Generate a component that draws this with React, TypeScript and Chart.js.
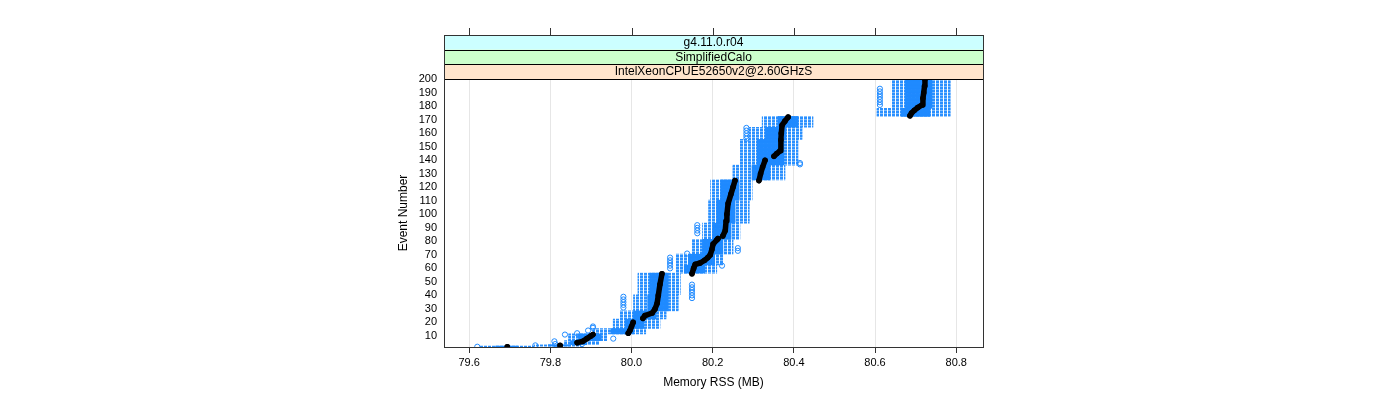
import React, { useEffect, useRef } from 'react';
import { Chart, registerables } from 'chart.js';

Chart.register(...registerables);

// ---- data ----
const stripLabels = ['g4.11.0.r04', 'SimplifiedCalo', 'IntelXeonCPUE52650v2@2.60GHzS'];
const stripColors = ['#ccffff', '#ccffcc', '#ffe5cc'];
const xTickValues = [79.6, 79.8, 80.0, 80.2, 80.4, 80.6, 80.8];
const yTickValues = [10, 20, 30, 40, 50, 60, 70, 80, 90, 100, 110, 120, 130, 140, 150, 160, 170, 180, 190, 200];

// blocks of events sharing (approximately) the same box statistics
const blockStart = [2, 3, 4, 7, 12, 16, 23, 29, 41, 57, 63, 71, 82, 94, 111, 126, 137, 156, 165, 173, 179];
const blockEnd = [2, 3, 6, 11, 15, 22, 28, 40, 56, 62, 70, 81, 93, 110, 125, 136, 155, 164, 172, 178, 200];
const whiskerLow = [79.625, 79.76, 79.835, 79.845, 79.905, 79.955, 79.97, 80.005, 80.016, 80.11, 80.11, 80.15, 80.175, 80.19, 80.195, 80.25, 80.267, 80.29, 80.322, 80.605, 80.64];
const boxLow = [79.665, 79.795, 79.85, 79.87, 79.95, 79.985, 80.005, 80.04, 80.045, 80.13, 80.14, 80.175, 80.2, 80.21, 80.22, 80.297, 80.31, 80.33, 80.361, 80.665, 80.675];
const boxHigh = [79.72, 79.85, 79.89, 79.925, 80.005, 80.03, 80.06, 80.09, 80.09, 80.18, 80.205, 80.225, 80.245, 80.255, 80.265, 80.341, 80.375, 80.38, 80.41, 80.735, 80.74];
const whiskerHigh = [79.76, 79.875, 79.92, 79.94, 80.035, 80.07, 80.085, 80.115, 80.12, 80.21, 80.225, 80.25, 80.267, 80.29, 80.297, 80.378, 80.41, 80.42, 80.447, 80.785, 80.785];

// median path (null = break)
const medianEvents = [2, null, 3, null, 5, 6, 8, 10, 11, null, 12, 14, 17, 20, null, 23, 25, 27, 30, 34, 40, 48, 56, null, 56, 60, 63, 64, 66, 68, 70, 74, 78, 81, 82, null, 84, 88, 95, 100, 108, 115, 120, 125, null, 125, 130, 135, 140, null, 143, 145, 147, 155, 160, 166, 169, 172, null, 173, 175, 177, 179, 181, 186, 190, 195, 200];
const medianValues = [79.694, null, 79.824, null, 79.866, 79.88, 79.89, 79.9, 79.905, null, 79.992, 79.996, 80.0, 80.004, null, 80.028, 80.033, 80.051, 80.058, 80.063, 80.066, 80.07, 80.075, null, 80.149, 80.153, 80.157, 80.169, 80.18, 80.188, 80.194, 80.198, 80.201, 80.21, 80.213, null, 80.225, 80.231, 80.233, 80.235, 80.238, 80.245, 80.25, 80.255, null, 80.314, 80.318, 80.323, 80.329, null, 80.351, 80.358, 80.366, 80.368, 80.369, 80.371, 80.378, 80.386, null, 80.686, 80.69, 80.697, 80.705, 80.716, 80.718, 80.72, 80.722, 80.723];

const outlierEvents = [2, 3, 4, 4, 6, 8, 11, 12, 14, 16, 17, 31, 33, 35, 37, 39, 38, 40, 42, 44, 46, 48, 60, 62, 64, 66, 68, 62, 71, 73, 75, 86, 88, 90, 92, 137, 138, 156, 158, 160, 162, 164, 181, 183, 185, 187, 189, 191, 193];
const outlierValues = [79.62, 79.763, 79.812, 79.878, 79.81, 79.955, 79.836, 79.866, 79.893, 79.905, 79.905, 79.98, 79.98, 79.98, 79.98, 79.98, 80.149, 80.149, 80.149, 80.149, 80.149, 80.149, 80.095, 80.095, 80.095, 80.095, 80.095, 80.223, 80.137, 80.262, 80.262, 80.162, 80.162, 80.162, 80.162, 80.415, 80.415, 80.283, 80.283, 80.283, 80.283, 80.283, 80.612, 80.612, 80.612, 80.612, 80.612, 80.612, 80.612];

const FONT = '"Liberation Sans", Arial, Helvetica, sans-serif';

function makeWhiskerPattern(): CanvasPattern | string {
  const c = document.createElement('canvas');
  c.width = 4;
  c.height = 3;
  const g = c.getContext('2d');
  if (!g) return '#5aaaff';
  g.fillStyle = '#ffffff';
  g.fillRect(0, 0, 4, 3);
  g.fillStyle = '#2b90ff';
  g.fillRect(0, 0, 3, 2);
  g.fillStyle = '#7dbdff';
  g.fillRect(0, 2, 3, 1);
  return g.createPattern(c, 'repeat') || '#5aaaff';
}

const latticePlugin = {
  id: 'latticeFrame',
  afterDraw(chart: any) {
    const { ctx, chartArea: a, scales } = chart;
    const x = scales.x;
    const stripH = 44 / 3;
    const stripTop = a.top - 44;
    ctx.save();
    for (let i = 0; i < stripLabels.length; i++) {
      const y0 = stripTop + i * stripH;
      ctx.fillStyle = stripColors[i];
      ctx.fillRect(a.left, y0, a.right - a.left, stripH);
      ctx.strokeStyle = '#000';
      ctx.lineWidth = 1;
      ctx.strokeRect(Math.round(a.left) + 0.5, Math.round(y0) + 0.5, Math.round(a.right - a.left), Math.round(stripH));
      ctx.fillStyle = '#000';
      ctx.font = '12px ' + FONT;
      ctx.textAlign = 'center';
      ctx.textBaseline = 'middle';
      ctx.fillText(stripLabels[i], (a.left + a.right) / 2, y0 + stripH / 2 + 0.5);
    }
    ctx.strokeStyle = '#333';
    ctx.lineWidth = 1;
    ctx.strokeRect(Math.round(a.left) + 0.5, Math.round(stripTop) + 0.5, Math.round(a.right - a.left), Math.round(a.bottom - stripTop));
    ctx.beginPath();
    for (const v of xTickValues) {
      const px = Math.round(x.getPixelForValue(v)) + 0.5;
      ctx.moveTo(px, stripTop - 7);
      ctx.lineTo(px, stripTop);
    }
    ctx.stroke();
    ctx.restore();
  },
};

export default function App() {
  const ref = useRef<HTMLCanvasElement>(null);
  useEffect(() => {
    document.body.style.margin = '0';
    const canvas = ref.current;
    if (!canvas) return;
    Chart.defaults.font.family = FONT;
    Chart.defaults.color = '#000';

    const whiskers: any[] = [];
    const boxes: any[] = [];
    for (let i = 0; i < blockStart.length; i++) {
      for (let e = blockStart[i]; e <= blockEnd[i]; e++) {
        whiskers.push({ y: e, x: [whiskerLow[i], whiskerHigh[i]] });
        boxes.push({ y: e, x: [boxLow[i], boxHigh[i]] });
      }
    }
    const medians = medianEvents.map((e, i) =>
      e === null || medianValues[i] === null ? { x: null, y: null } : { x: medianValues[i], y: e }
    );
    const outliers = outlierEvents.map((e, i) => ({ x: outlierValues[i], y: e }));

    const chart = new Chart(canvas, {
      type: 'bar',
      data: {
        datasets: [
          {
            type: 'bar',
            data: whiskers,
            backgroundColor: makeWhiskerPattern() as any,
            borderWidth: 0,
            grouped: false,
            categoryPercentage: 1,
            barPercentage: 1,
            order: 4,
          } as any,
          {
            type: 'bar',
            data: boxes,
            backgroundColor: '#1f8aff',
            borderWidth: 0,
            grouped: false,
            categoryPercentage: 1,
            barPercentage: 1,
            order: 3,
          } as any,
          {
            type: 'scatter',
            data: outliers,
            pointStyle: 'circle',
            pointRadius: 2.6,
            pointBorderWidth: 1,
            pointBorderColor: '#1f8aff',
            pointBackgroundColor: 'rgba(255,255,255,0)',
            order: 2,
          } as any,
          {
            type: 'line',
            data: medians,
            borderColor: '#000',
            borderWidth: 5.5,
            borderCapStyle: 'round',
            borderJoinStyle: 'round',
            pointRadius: 2.8,
            pointBackgroundColor: '#000',
            pointBorderWidth: 0,
            spanGaps: false,
            tension: 0,
            order: 1,
          } as any,
        ],
      },
      options: {
        indexAxis: 'y',
        animation: false,
        responsive: false,
        events: [],
        layout: { padding: { left: 390, right: 417, top: 79, bottom: 0 } },
        plugins: { legend: { display: false }, tooltip: { enabled: false }, title: { display: false } },
        scales: {
          x: {
            type: 'linear',
            position: 'bottom',
            min: 79.538,
            max: 80.866,
            offset: false,
            afterBuildTicks: (s: any) => {
              s.ticks = xTickValues.map((v) => ({ value: v }));
            },
            afterFit: (s: any) => {
              s.height = 53;
            },
            grid: { color: '#e6e6e6', tickColor: '#333', tickLength: 6, drawTicks: true, offset: false },
            border: { display: false },
            ticks: {
              font: { size: 11 },
              padding: 3,
              maxRotation: 0,
              autoSkip: false,
              callback: (v: any) => Number(v).toFixed(1),
            },
            title: { display: true, text: 'Memory RSS (MB)', font: { size: 12 }, padding: { top: 0, bottom: 10 } },
          },
          y: {
            type: 'linear',
            position: 'left',
            min: 1.8,
            max: 200.2,
            offset: false,
            afterBuildTicks: (s: any) => {
              s.ticks = yTickValues.map((v) => ({ value: v }));
            },
            afterFit: (s: any) => {
              s.width = 54;
            },
            grid: { display: false, drawTicks: false, offset: false },
            border: { display: false },
            ticks: { font: { size: 11 }, padding: 7, autoSkip: false },
            title: { display: true, text: 'Event Number', font: { size: 12 }, padding: { top: 6, bottom: 0 } },
          },
        },
      } as any,
      plugins: [latticePlugin],
    });
    return () => chart.destroy();
  }, []);
  return (
    <div style={{ width: 1400, height: 400 }}>
      <canvas ref={ref} width={1400} height={400} style={{ display: 'block' }} />
    </div>
  );
}
